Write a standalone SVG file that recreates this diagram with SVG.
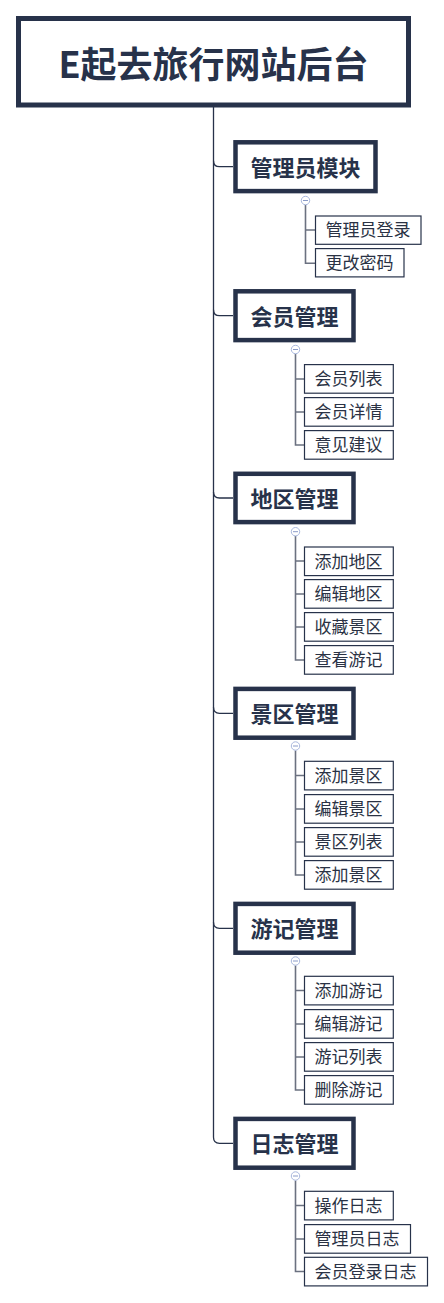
<svg xmlns="http://www.w3.org/2000/svg" width="444" height="1303" viewBox="0 0 444 1303">
<style>
.root{fill:#fff;stroke:#27324a;stroke-width:5}
.main{fill:#fff;stroke:#27324a;stroke-width:4.5}
.sub{fill:#fff;stroke:#27324a;stroke-width:1.2}
.t0{font-family:"Noto Sans CJK SC","Noto Sans",sans-serif;font-weight:bold;font-size:36px;fill:#27324a;text-anchor:middle}
.t1{font-family:"Noto Sans CJK SC","Noto Sans",sans-serif;font-weight:bold;font-size:22px;fill:#27324a;text-anchor:middle}
.t2{font-family:"Noto Sans CJK SC","Noto Sans",sans-serif;font-size:17px;fill:#2a3244;text-anchor:start}
.trunk{fill:none;stroke:#27324a;stroke-width:1.3}
.cl{fill:none;stroke:#6b7180;stroke-width:1.6}
.tog{fill:#fff;stroke:#a9b8de;stroke-width:1}
.togm{stroke:#8a9bc8;stroke-width:1}
</style>
<g id="connectors">
<path class="trunk" d="M213.5 107V1137.3Q213.5 1143.3 219.5 1143.3H233"/>
<path class="trunk" d="M213.5 160.7Q213.5 166.7 219.5 166.7H233"/>
<path class="trunk" d="M213.5 309.7Q213.5 315.7 219.5 315.7H233"/>
<path class="trunk" d="M213.5 492Q213.5 498 219.5 498H233"/>
<path class="trunk" d="M213.5 707.3Q213.5 713.3 219.5 713.3H233"/>
<path class="trunk" d="M213.5 922.3Q213.5 928.3 219.5 928.3H233"/>
<path class="cl" d="M305.5 205V263.3H315M305.5 230H315"/>
<path class="cl" d="M295.5 354V445H304.5M295.5 379H304.5M295.5 412H304.5"/>
<path class="cl" d="M295.5 536V660H304.5M295.5 561H304.5M295.5 594H304.5M295.5 627H304.5"/>
<path class="cl" d="M295.5 750.5V875H304.5M295.5 775.5H304.5M295.5 809H304.5M295.5 842H304.5"/>
<path class="cl" d="M295.5 965.5V1090H304.5M295.5 990.5H304.5M295.5 1024H304.5M295.5 1057H304.5"/>
<path class="cl" d="M295.5 1180.5V1271.5H304.5M295.5 1205.5H304.5M295.5 1239H304.5"/>
<g>
<circle class="tog" cx="305.5" cy="200.5" r="4.2"/><path class="togm" d="M303 200.5H308"/>
<circle class="tog" cx="295.5" cy="349.5" r="4.2"/><path class="togm" d="M293 349.5H298"/>
<circle class="tog" cx="295.5" cy="531.7" r="4.2"/><path class="togm" d="M293 531.7H298"/>
<circle class="tog" cx="295.5" cy="746" r="4.2"/><path class="togm" d="M293 746H298"/>
<circle class="tog" cx="295.5" cy="961" r="4.2"/><path class="togm" d="M293 961H298"/>
<circle class="tog" cx="295.5" cy="1176" r="4.2"/><path class="togm" d="M293 1176H298"/>
</g>
</g>
<g id="root"><rect class="root" x="18.5" y="18.5" width="390" height="86.5"/><text class="t0" x="213.5" y="78">E起去旅行网站后台</text></g>
<g id="n1"><rect class="main" x="235.5" y="142.3" width="140" height="48.8"/><text class="t1" x="305.5" y="175.5">管理员模块</text></g>
<g id="n1a"><rect class="sub" x="315.5" y="216" width="105.5" height="28.3"/><text class="t2" x="325.5" y="236.3">管理员登录</text></g>
<g id="n1b"><rect class="sub" x="315.5" y="248.6" width="88.5" height="28.3"/><text class="t2" x="325.5" y="268.9">更改密码</text></g>
<g id="n2"><rect class="main" x="235.5" y="291.3" width="118" height="48.8"/><text class="t1" x="294.5" y="324.5">会员管理</text></g>
<g id="n2a"><rect class="sub" x="304.5" y="364.6" width="88.8" height="28.6"/><text class="t2" x="314.5" y="385.1">会员列表</text></g>
<g id="n2b"><rect class="sub" x="304.5" y="397.6" width="88.8" height="28.6"/><text class="t2" x="314.5" y="418.1">会员详情</text></g>
<g id="n2c"><rect class="sub" x="304.5" y="430.6" width="88.8" height="28.6"/><text class="t2" x="314.5" y="451.1">意见建议</text></g>
<g id="n3"><rect class="main" x="235.5" y="473.8" width="118" height="48.3"/><text class="t1" x="294.5" y="506.8">地区管理</text></g>
<g id="n3a"><rect class="sub" x="304.5" y="547" width="88.8" height="28.6"/><text class="t2" x="314.5" y="567.5">添加地区</text></g>
<g id="n3b"><rect class="sub" x="304.5" y="579.6" width="88.8" height="28.6"/><text class="t2" x="314.5" y="600.1">编辑地区</text></g>
<g id="n3c"><rect class="sub" x="304.5" y="612.6" width="88.8" height="28.6"/><text class="t2" x="314.5" y="633.1">收藏景区</text></g>
<g id="n3d"><rect class="sub" x="304.5" y="645.6" width="88.8" height="28.6"/><text class="t2" x="314.5" y="666.1">查看游记</text></g>
<g id="n4"><rect class="main" x="235.5" y="688.9" width="118" height="48.8"/><text class="t1" x="294.5" y="722.1">景区管理</text></g>
<g id="n4a"><rect class="sub" x="304.5" y="761.3" width="88.8" height="28.6"/><text class="t2" x="314.5" y="781.8">添加景区</text></g>
<g id="n4b"><rect class="sub" x="304.5" y="794.6" width="88.8" height="28.6"/><text class="t2" x="314.5" y="815.1">编辑景区</text></g>
<g id="n4c"><rect class="sub" x="304.5" y="827.6" width="88.8" height="28.6"/><text class="t2" x="314.5" y="848.1">景区列表</text></g>
<g id="n4d"><rect class="sub" x="304.5" y="860.6" width="88.8" height="28.6"/><text class="t2" x="314.5" y="881.1">添加景区</text></g>
<g id="n5"><rect class="main" x="235.5" y="903.9" width="118" height="48.8"/><text class="t1" x="294.5" y="937.1">游记管理</text></g>
<g id="n5a"><rect class="sub" x="304.5" y="976.3" width="88.8" height="28.6"/><text class="t2" x="314.5" y="996.8">添加游记</text></g>
<g id="n5b"><rect class="sub" x="304.5" y="1009.6" width="88.8" height="28.6"/><text class="t2" x="314.5" y="1030.1">编辑游记</text></g>
<g id="n5c"><rect class="sub" x="304.5" y="1042.6" width="88.8" height="28.6"/><text class="t2" x="314.5" y="1063.1">游记列表</text></g>
<g id="n5d"><rect class="sub" x="304.5" y="1075.6" width="88.8" height="28.6"/><text class="t2" x="314.5" y="1096.1">删除游记</text></g>
<g id="n6"><rect class="main" x="235.5" y="1118.9" width="118" height="48.8"/><text class="t1" x="294.5" y="1152.1">日志管理</text></g>
<g id="n6a"><rect class="sub" x="304.5" y="1191.3" width="88.8" height="28.6"/><text class="t2" x="314.5" y="1211.8">操作日志</text></g>
<g id="n6b"><rect class="sub" x="304.5" y="1224.6" width="106" height="28.6"/><text class="t2" x="314.5" y="1245.1">管理员日志</text></g>
<g id="n6c"><rect class="sub" x="304.5" y="1257.3" width="123" height="28.6"/><text class="t2" x="314.5" y="1277.8">会员登录日志</text></g>
</svg>
